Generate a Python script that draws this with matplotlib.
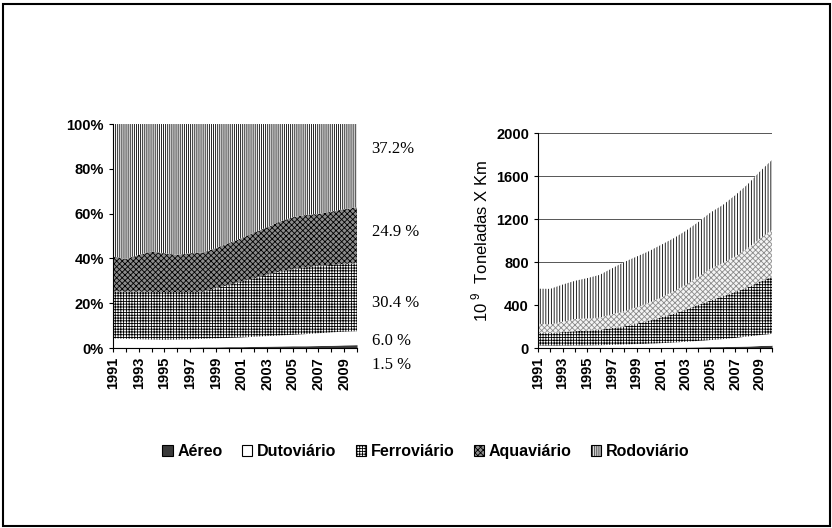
import matplotlib

matplotlib.use("Agg")
import matplotlib.pyplot as plt
import numpy as np
from matplotlib.patches import Patch, Rectangle

plt.rcParams["font.family"] = ["Liberation Sans", "DejaVu Sans"]
plt.rcParams["hatch.linewidth"] = 0.6
plt.rcParams["mathtext.fontset"] = "custom"
plt.rcParams["mathtext.rm"] = "Liberation Sans"

# Years and modal shares (%)
years = list(range(1991, 2011))
modes = ["Aéreo", "Dutoviário", "Ferroviário", "Aquaviário", "Rodoviário"]

aereo = [0.3, 0.3, 0.3, 0.3, 0.3, 0.4, 0.4, 0.5, 0.5, 0.6,
         0.6, 0.7, 0.8, 0.9, 1.0, 1.0, 1.1, 1.2, 1.4, 1.5]
dutoviario = [4.0, 3.8, 3.6, 3.5, 3.4, 3.4, 3.5, 3.6, 3.8, 3.9,
              4.1, 4.3, 4.5, 4.7, 4.9, 5.2, 5.5, 5.8, 5.9, 6.0]
ferroviario = [21.0, 21.1, 21.3, 21.3, 21.3, 21.2, 21.1, 21.1, 22.4, 23.7,
               25.0, 26.2, 27.4, 28.6, 29.3, 29.9, 30.1, 30.1, 30.3, 30.4]
aquaviario = [15.6, 14.6, 16.4, 18.0, 17.3, 16.6, 17.3, 17.4, 17.9, 18.6,
              19.3, 20.4, 21.2, 22.3, 23.2, 23.3, 23.2, 23.8, 24.4, 24.9]
rodoviario = [59.1, 60.2, 58.4, 56.9, 57.7, 58.4, 57.7, 57.4, 55.4, 53.2,
              51.0, 48.4, 46.1, 43.5, 41.6, 40.6, 40.1, 39.1, 38.0, 37.2]

# Total transport (10^9 t x km)
total = [552, 550, 590, 625, 650, 680, 740, 800, 850, 900,
         960, 1020, 1090, 1170, 1260, 1330, 1420, 1520, 1640, 1750]

final_labels = ["37.2%", "24.9 %", "30.4 %", "6.0 %", "1.5 %"]
final_label_y = [89, 52, 20, 3, -7.6]

left_styles = [
    dict(facecolor="#3a3a3a", edgecolor="#111111", hatch=None),
    dict(facecolor="white", edgecolor="white", hatch=None),
    dict(facecolor="white", edgecolor="black", hatch="++++++"),
    dict(facecolor="#8c8c8c", edgecolor="black", hatch="xxxxxx"),
    dict(facecolor="white", edgecolor="black", hatch="||||||||"),
]
right_styles = [
    dict(facecolor="#3a3a3a", edgecolor="#111111", hatch=None),
    dict(facecolor="white", edgecolor="white", hatch=None),
    dict(facecolor="white", edgecolor="black", hatch="++++++"),
    dict(facecolor="#f4f4f4", edgecolor="#8a8a8a", hatch="xxxxxx"),
    dict(facecolor="white", edgecolor="black", hatch="||||||"),
]


def draw_stack(ax, layers, styles):
    x = np.array(years)
    base = np.zeros(len(years))
    for layer, style in zip(layers, styles):
        top = base + np.array(layer)
        ax.fill_between(x, base, top, linewidth=0, zorder=2, **style)
        base = top


def style_axis(ax):
    ax.set_xlim(1991, 2010)
    ax.set_xticks(years, minor=True)
    ax.set_xticks(years[::2])
    ax.set_xticklabels([str(y) for y in years[::2]], rotation=90,
                       fontsize=10.5, fontweight="bold")
    ax.tick_params(axis="x", which="both", direction="out", length=3, width=0.8)
    ax.tick_params(axis="y", direction="out", length=3, width=0.8,
                   labelsize=10.5)
    for lab in ax.get_yticklabels():
        lab.set_fontweight("bold")
    ax.spines["top"].set_visible(False)
    ax.spines["right"].set_visible(False)
    for s in ("left", "bottom"):
        ax.spines[s].set_zorder(5)


fig = plt.figure(figsize=(8.32, 5.28), dpi=100)

# Left: modal share
ax1 = fig.add_axes([0.1358, 0.3409, 0.2933, 0.4242])
shares = [aereo, dutoviario, ferroviario, aquaviario, rodoviario]
draw_stack(ax1, shares, left_styles)
ax1.set_ylim(0, 100)
ax1.set_yticks([0, 20, 40, 60, 80, 100])
ax1.set_yticklabels(["0%", "20%", "40%", "60%", "80%", "100%"])
style_axis(ax1)

for txt, yv in zip(final_labels, final_label_y):
    ax1.text(1.06, yv, txt, transform=ax1.get_yaxis_transform(),
             fontsize=12, family="Liberation Serif", va="center",
             ha="left", clip_on=False)

# Right: absolute values
ax2 = fig.add_axes([0.6466, 0.3409, 0.2813, 0.4072])
absolute = [np.array(s) * np.array(total) / 100.0 for s in shares]
draw_stack(ax2, absolute, right_styles)
ax2.set_ylim(0, 2000)
ax2.set_yticks([0, 400, 800, 1200, 1600, 2000])
ax2.yaxis.grid(True, color="#555555", linewidth=0.7, zorder=1)
ax2.set_axisbelow(True)
style_axis(ax2)
ax2.set_ylabel(r"10$^{\ 9}$  Toneladas X Km", fontsize=12, labelpad=4)

handles = [Patch(facecolor=s["facecolor"], edgecolor="black",
                 hatch=s["hatch"], linewidth=0.8) for s in left_styles]
fig.legend(handles, modes, loc="center", bbox_to_anchor=(0.512, 0.145),
           ncol=5, frameon=False, handlelength=0.65, handleheight=0.65,
           handletextpad=0.3, columnspacing=1.2,
           prop={"weight": "bold", "size": 11.5})

fig.patches.append(Rectangle((0.004, 0.004), 0.993, 0.989,
                             transform=fig.transFigure, fill=False,
                             edgecolor="black", linewidth=1.5))

fig.savefig("out.png", dpi=100)
